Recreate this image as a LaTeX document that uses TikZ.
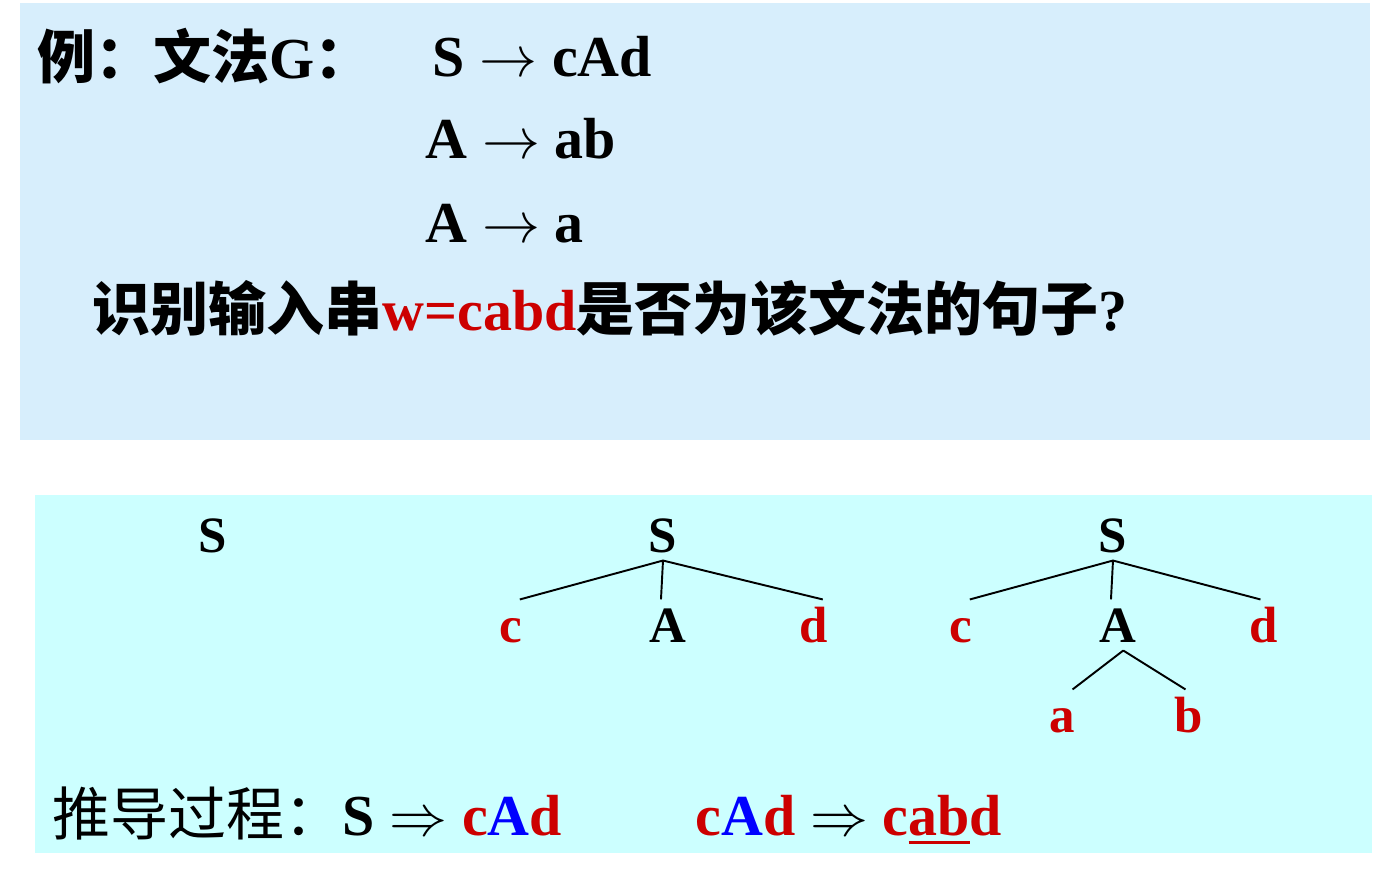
\RequirePackage{fix-cm}
\documentclass[tikz,border=0pt]{standalone}
\usepackage{fontspec}
\setmainfont{Liberation Serif}
\newfontfamily\cjk{Noto Sans CJK SC}

\definecolor{boxblue}{RGB}{215,238,252}
\definecolor{boxcyan}{RGB}{204,255,255}
\definecolor{symred}{RGB}{204,0,0}
\definecolor{symblue}{RGB}{0,0,255}

\newcommand{\hz}[1]{{\cjk\bfseries #1}}
\newcommand{\hzr}[1]{{\cjk\mdseries #1}}
\newcommand{\rd}[1]{{\color{symred}#1}}
\newcommand{\bl}[1]{{\color{symblue}#1}}
\newcommand{\prodarr}{$\rightarrow$}
\newcommand{\derarr}{$\Rightarrow$}
\newcommand{\redul}[1]{\setbox0\hbox{#1}\rlap{\raisebox{-5pt}{\rule{\wd0}{1.6pt}}}\box0}

\begin{document}
\begin{tikzpicture}[x=0.02cm, y=-0.02cm,
					line width=1.1pt,
					node distance=1.8cm,
					big text/.style={font=\bfseries\fontsize{33}{40}\selectfont, inner sep=0pt, anchor=base west},
					tree node/.style={font=\bfseries\fontsize{29}{29}\selectfont, inner sep=0.14cm, text height=20pt, text depth=0pt},
					term node/.style={tree node, text=symred}]

  \useasboundingbox (0,0) rectangle (1373,883);
  \fill[boxblue] (20,3) rectangle (1370,440);
  \fill[boxcyan] (35,495) rectangle (1372,853);

  % grammar
  \node[big text] (title) at (37,78) {\hz{例：文法}G\hz{：}};
  \node[big text] (rule1) at (432,76) {S \prodarr\ cAd};
  \node[big text] (rule2) at (425,158) {A \prodarr\ ab};
  \node[big text] (rule3) at (425,242) {A \prodarr\ a};
  \node[big text] (ask) at (92,330) {\hz{识别输入串}\rd{w=cabd}\hz{是否为该文法的句子}?};

  % trees
  \node[tree node] (s1) at (213,535) {S};

  \node[tree node] (s2) at (663,535) {S};
  \node[tree node] (A2) [below of=s2, xshift=0.1cm] {A};
  \node[term node] (c2) [left of=A2, node distance=3.14cm] {c};
  \node[term node] (d2) [right of=A2, node distance=2.92cm] {d};

  \node[tree node] (s3) at (1113,535) {S};
  \node[tree node] (A3) [below of=s3, xshift=0.1cm] {A};
  \node[term node] (c3) [left of=A3, node distance=3.14cm] {c};
  \node[term node] (d3) [right of=A3, node distance=2.92cm] {d};
  \node[term node] (a3) [below of=A3, xshift=-1.12cm] {a};
  \node[term node] (b3) [below of=A3, xshift=1.42cm] {b};

  \draw (s2.south) -- ([xshift=5pt]c2.north)
        (s2.south) -- ([xshift=-4pt]A2.north)
        (s2.south) -- ([xshift=5pt]d2.north);
  \draw (s3.south) -- ([xshift=5pt]c3.north)
        (s3.south) -- ([xshift=-4pt]A3.north)
        (s3.south) -- ([xshift=-2pt]d3.north);
  \draw ([xshift=3pt]A3.south) -- ([xshift=6pt]a3.north)
        ([xshift=3pt]A3.south) -- ([xshift=-2pt]b3.north);

  % derivation
  \node[big text] (step1) at (52,835) {\hzr{推导过程：}S \derarr\ \rd{c}\bl{A}\rd{d}};
  \node[big text] (step2) at (695,835) {\rd{c}\bl{A}\rd{d} \derarr\ \rd{c\redul{ab}d}};
\end{tikzpicture}
\end{document}
